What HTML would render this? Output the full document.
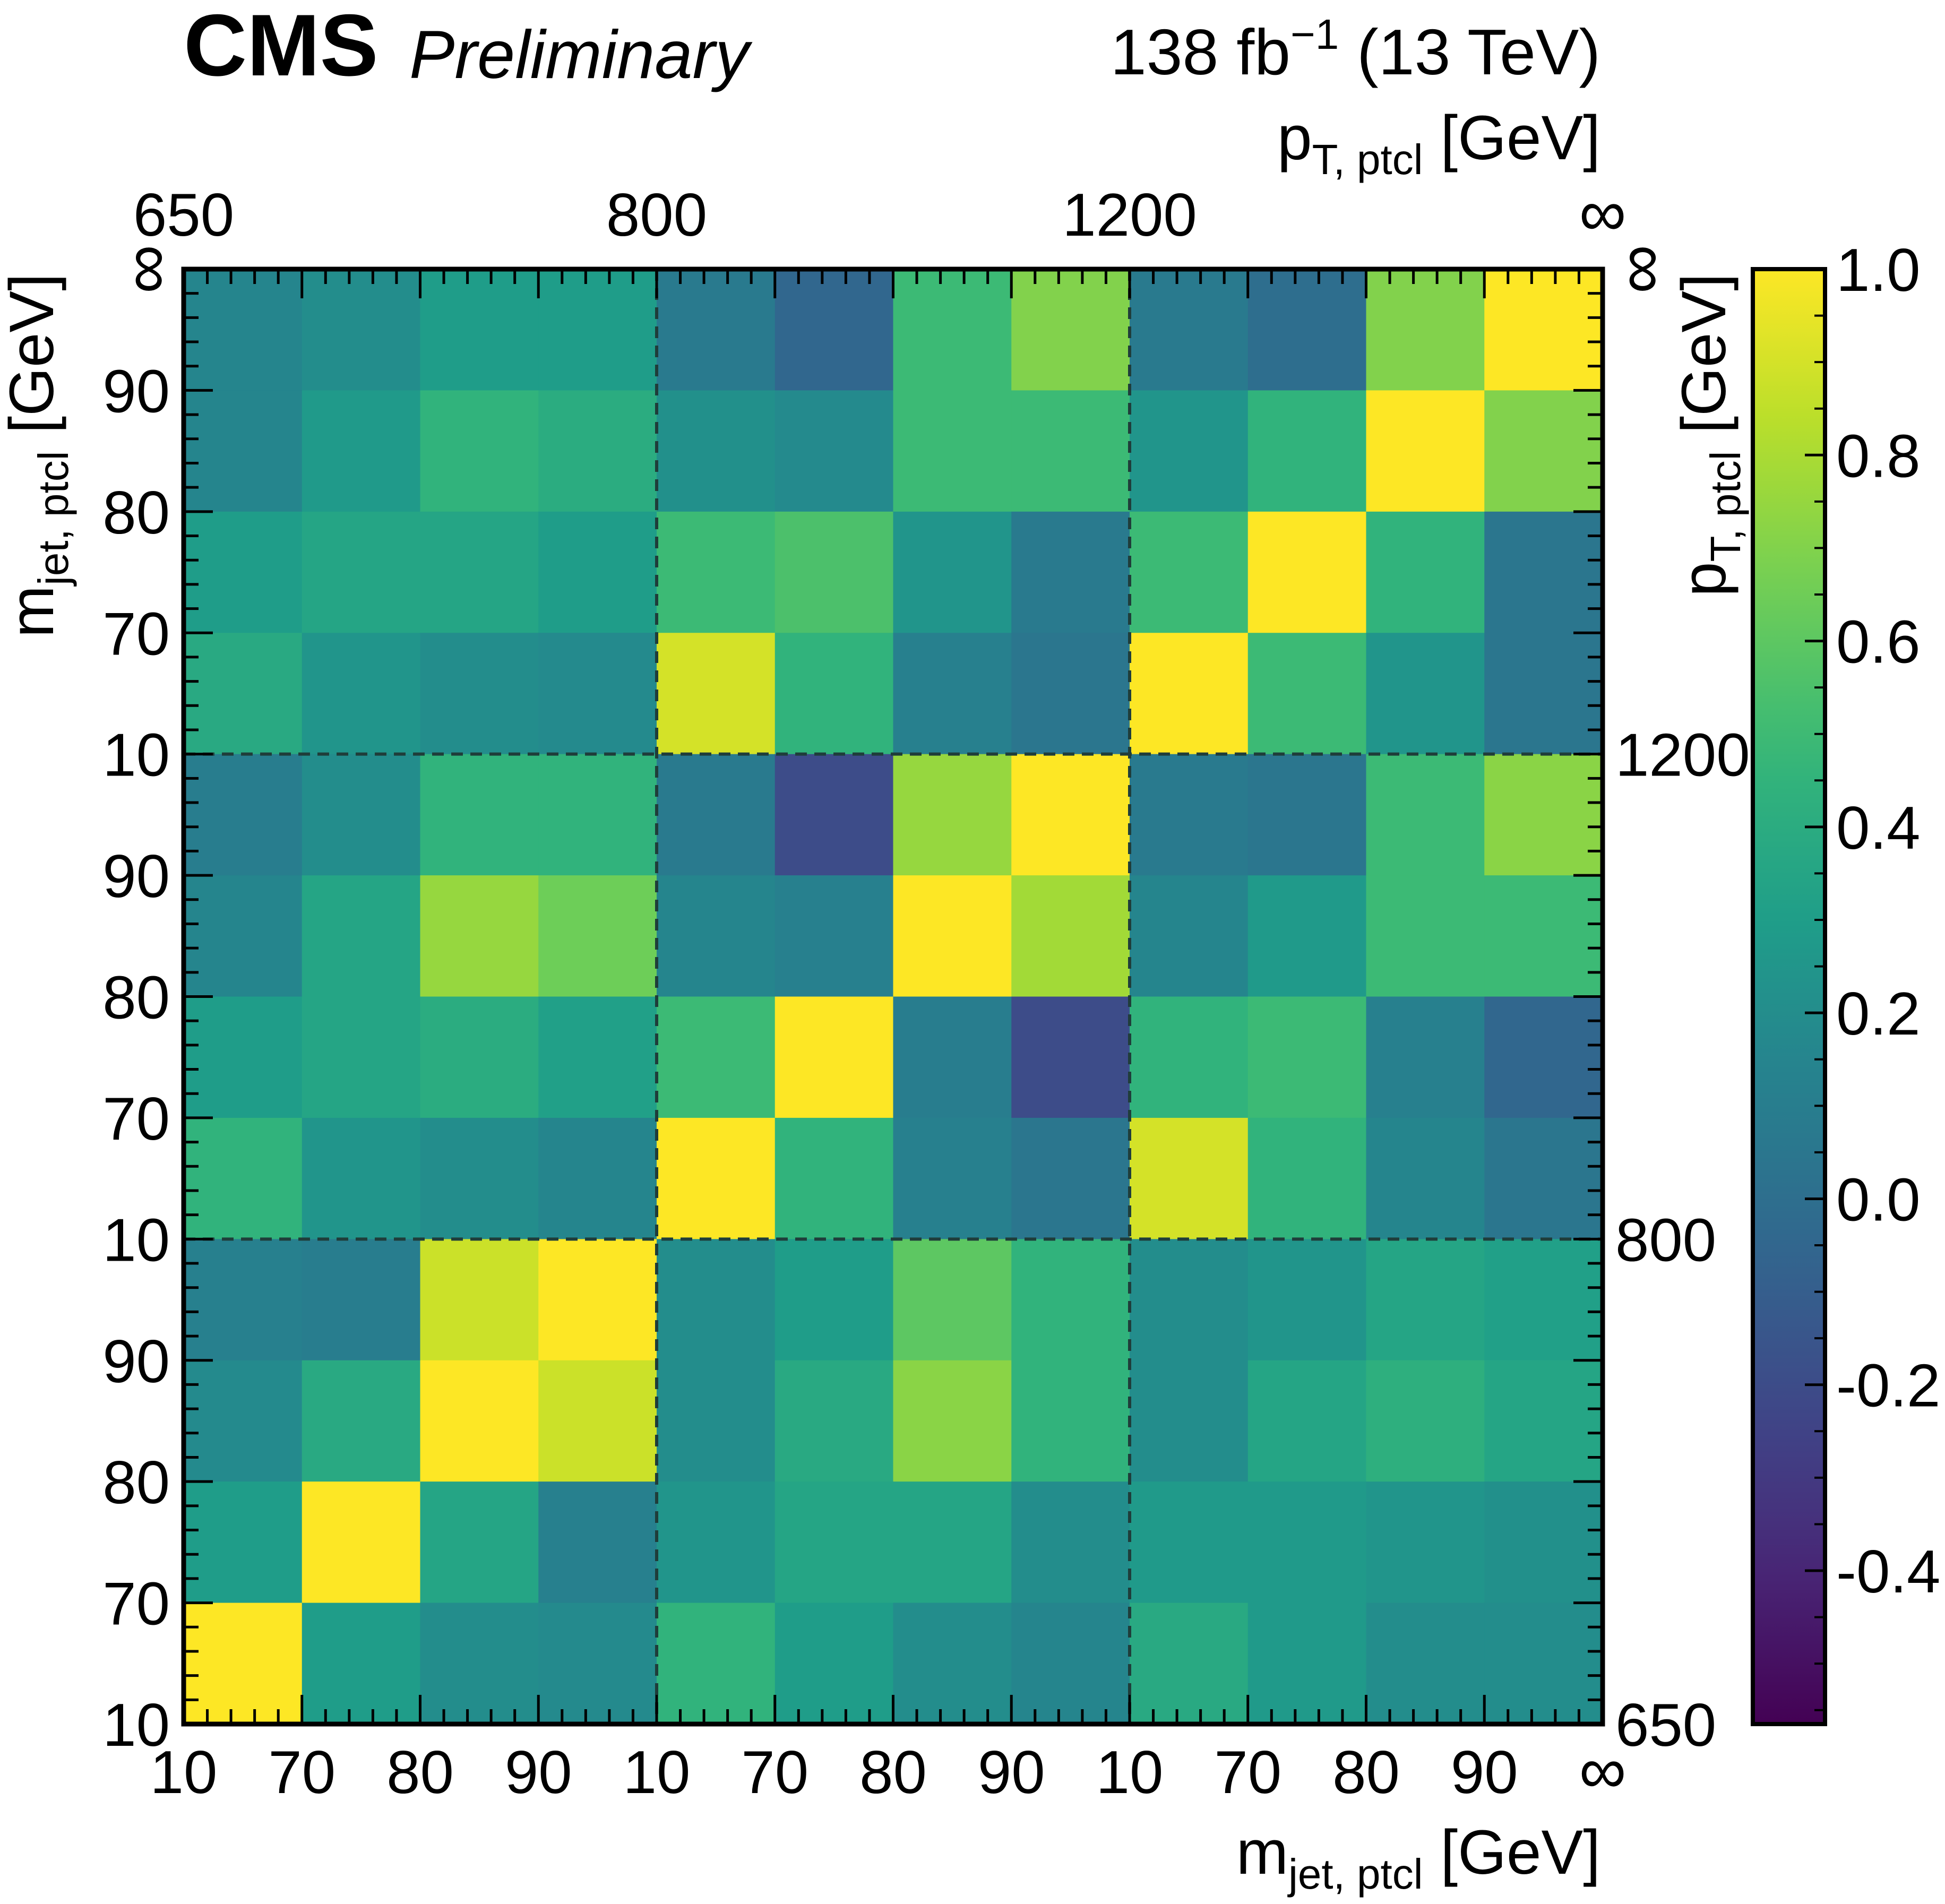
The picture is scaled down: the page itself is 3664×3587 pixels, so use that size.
<!DOCTYPE html>
<html><head><meta charset="utf-8">
<style>
html,body{margin:0;padding:0;background:#fff;}
svg{display:block;font-family:"Liberation Sans",Arial,sans-serif;}
</style></head>
<body>
<svg id="chart" width="3664" height="3587" viewBox="0 0 3664 3587" xmlns="http://www.w3.org/2000/svg">
<g id="cells"></g>
<g id="grid"></g>
<g id="ticks"></g>
<g id="labels"></g>
<defs><linearGradient id="vgrad" x1="0" y1="1" x2="0" y2="0"></linearGradient></defs>
<rect x="3302" y="507" width="136" height="2741" fill="url(#vgrad)" stroke="#000" stroke-width="8"/>
<g id="cbticks"></g>
<text x="346" y="142" font-size="165" font-weight="bold">CMS</text>
<text x="771" y="147" font-size="128" font-style="italic">Preliminary</text>
<text x="3015" y="140" font-size="122" text-anchor="end">138 fb<tspan dy="-48" font-size="80">−1</tspan><tspan dy="48"> (13 TeV)</tspan></text>
<text x="3015" y="300" font-size="118" text-anchor="end">p<tspan dy="28" font-size="80">T, ptcl</tspan><tspan dy="-28"> [GeV]</tspan></text>
<text x="3015" y="3530" font-size="118" text-anchor="end">m<tspan dy="28" font-size="80">jet, ptcl</tspan><tspan dy="-28"> [GeV]</tspan></text>
<text transform="translate(100,515) rotate(-90)" font-size="118" text-anchor="end">m<tspan dy="28" font-size="80">jet, ptcl</tspan><tspan dy="-28"> [GeV]</tspan></text>
<text transform="translate(3250,515) rotate(-90)" font-size="118" text-anchor="end">p<tspan dy="28" font-size="80">T, ptcl</tspan><tspan dy="-28"> [GeV]</tspan></text>
<rect x="346" y="507" width="2673" height="2741" fill="none" stroke="#000" stroke-width="9"/>
</svg>
<script>
const values = [
[0.15,0.20,0.30,0.30,0.08,-0.05,0.50,0.70,0.08,0.00,0.70,1.00],
[0.15,0.28,0.45,0.40,0.22,0.18,0.50,0.50,0.25,0.45,1.00,0.70],
[0.30,0.35,0.35,0.30,0.50,0.55,0.25,0.08,0.50,1.00,0.45,0.05],
[0.38,0.25,0.20,0.18,0.90,0.45,0.12,0.05,1.00,0.50,0.25,0.05],
[0.10,0.20,0.45,0.45,0.08,-0.20,0.75,1.00,0.08,0.05,0.50,0.72],
[0.15,0.35,0.75,0.65,0.15,0.12,1.00,0.78,0.15,0.28,0.50,0.50],
[0.30,0.35,0.40,0.32,0.50,1.00,0.10,-0.20,0.45,0.50,0.12,-0.05],
[0.45,0.25,0.20,0.15,1.00,0.45,0.12,0.05,0.90,0.45,0.15,0.05],
[0.12,0.10,0.88,1.00,0.20,0.30,0.60,0.45,0.20,0.25,0.35,0.32],
[0.18,0.38,1.00,0.88,0.20,0.38,0.72,0.45,0.20,0.35,0.42,0.35],
[0.30,1.00,0.35,0.12,0.25,0.35,0.35,0.20,0.28,0.28,0.25,0.22],
[1.00,0.30,0.20,0.18,0.45,0.30,0.20,0.15,0.38,0.28,0.20,0.20]];
const xTickLabels = ["10","70","80","90","10","70","80","90","10","70","80","90","∞"];
const yTickLabels = ["10","70","80","90","10","70","80","90","10","70","80","90","∞"];
const ptLabels = ["650","800","1200","∞"];
const cbTicks = [-0.4,-0.2,0.0,0.2,0.4,0.6,0.8,1.0];
const zMin = -0.565, zMax = 1.0;

const X0=346,X1=3019,Y0=507,Y1=3248,N=12;
const cw=(X1-X0)/N, ch=(Y1-Y0)/N;
const NS="http://www.w3.org/2000/svg";
const vir=[[68,1,84],[72,40,120],[62,73,137],[49,104,142],[38,130,142],[31,158,137],[53,183,121],[110,206,88],[181,222,43],[253,231,37]];
function viridis(t){t=Math.max(0,Math.min(1,t));const p=t*(vir.length-1);const i=Math.min(vir.length-2,Math.floor(p));const f=p-i;
const c=vir[i].map((a,k)=>Math.round(a+(vir[i+1][k]-a)*f));return `rgb(${c[0]},${c[1]},${c[2]})`;}
function xPos(i){return X0+i*cw;}
function yPos(i){return Y1-i*ch;}
function el(tag,attrs,parent){const e=document.createElementNS(NS,tag);for(const k in attrs)e.setAttribute(k,attrs[k]);parent.appendChild(e);return e;}
const cells=document.getElementById('cells');
values.forEach((row,r)=>row.forEach((v,c)=>{
  const e=el('rect',{x:xPos(c),y:Y0+r*ch,width:cw+0.5,height:ch+0.5,fill:viridis((v-zMin)/(zMax-zMin))},cells);
  
  
}));
const grid=document.getElementById('grid');
[4,8].forEach(k=>{
  let a=el('line',{x1:xPos(k),x2:xPos(k),y1:Y0,y2:Y1,stroke:'#1f3d3a',"stroke-width":6,"stroke-dasharray":"22,14"},grid);
  
  
  let b=el('line',{y1:yPos(k),y2:yPos(k),x1:X0,x2:X1,stroke:'#1f3d3a',"stroke-width":6,"stroke-dasharray":"22,14"},grid);
  
  
});
const ticks=document.getElementById('ticks');
for(let i=0;i<=N*5;i++){
  const maj=i%5===0, L=maj?55:28;
  const x=X0+i*cw/5, y=Y1-i*ch/5;
  el('line',{x1:x,x2:x,y1:Y1,y2:Y1-L,stroke:'#000',"stroke-width":5},ticks);
  el('line',{x1:x,x2:x,y1:Y0,y2:Y0+L,stroke:'#000',"stroke-width":5},ticks);
  el('line',{x1:X0,x2:X0+L,y1:y,y2:y,stroke:'#000',"stroke-width":5},ticks);
  el('line',{x1:X1,x2:X1-L,y1:y,y2:y,stroke:'#000',"stroke-width":5},ticks);
}
const labels=document.getElementById('labels');
xTickLabels.forEach((t,i)=>{
  const e=el('text',{x:xPos(i),y:3378,"font-size":t==="∞"?125:114,"text-anchor":"middle"},labels);e.textContent=t;
  
  
});
yTickLabels.forEach((t,i)=>{
  let e;
  if(t==="∞"){e=el('text',{transform:`translate(318,${yPos(i)}) rotate(-90)`,"font-size":130,"text-anchor":"middle"},labels);}
  else e=el('text',{x:320,y:yPos(i)+41,"font-size":114,"text-anchor":"end"},labels);
  e.textContent=t;
  
  
});
ptLabels.forEach((t,i)=>{
  const e=el('text',{x:xPos(i*4),y:444,"font-size":t==="∞"?125:114,"text-anchor":"middle"},labels);e.textContent=t;
  
  
  let r;
  if(t==="∞"){r=el('text',{transform:`translate(3132,${yPos(i*4)}) rotate(-90)`,"font-size":130,"text-anchor":"middle"},labels);}
  else r=el('text',{x:3043,y:yPos(i*4)+41,"font-size":114},labels);
  r.textContent=t;
  
  
});
const grad=document.getElementById('vgrad');
for(let i=0;i<=20;i++){el('stop',{offset:(i/20),"stop-color":viridis(i/20)},grad);}
const cbt=document.getElementById('cbticks');
const cbY=v=>Y1-(v-zMin)/(zMax-zMin)*(Y1-Y0);
cbTicks.forEach(v=>{
  el('line',{x1:3438,x2:3400,y1:cbY(v),y2:cbY(v),stroke:'#000',"stroke-width":5},cbt);
  const e=el('text',{x:3459,y:cbY(v)+41,"font-size":114},cbt);e.textContent=v.toFixed(1);
  
  
});
for(let v=-0.55;v<1.0;v+=0.05){const y=cbY(v);el('line',{x1:3438,x2:3418,y1:y,y2:y,stroke:'#000',"stroke-width":4},cbt);}
</script>
</body></html>
